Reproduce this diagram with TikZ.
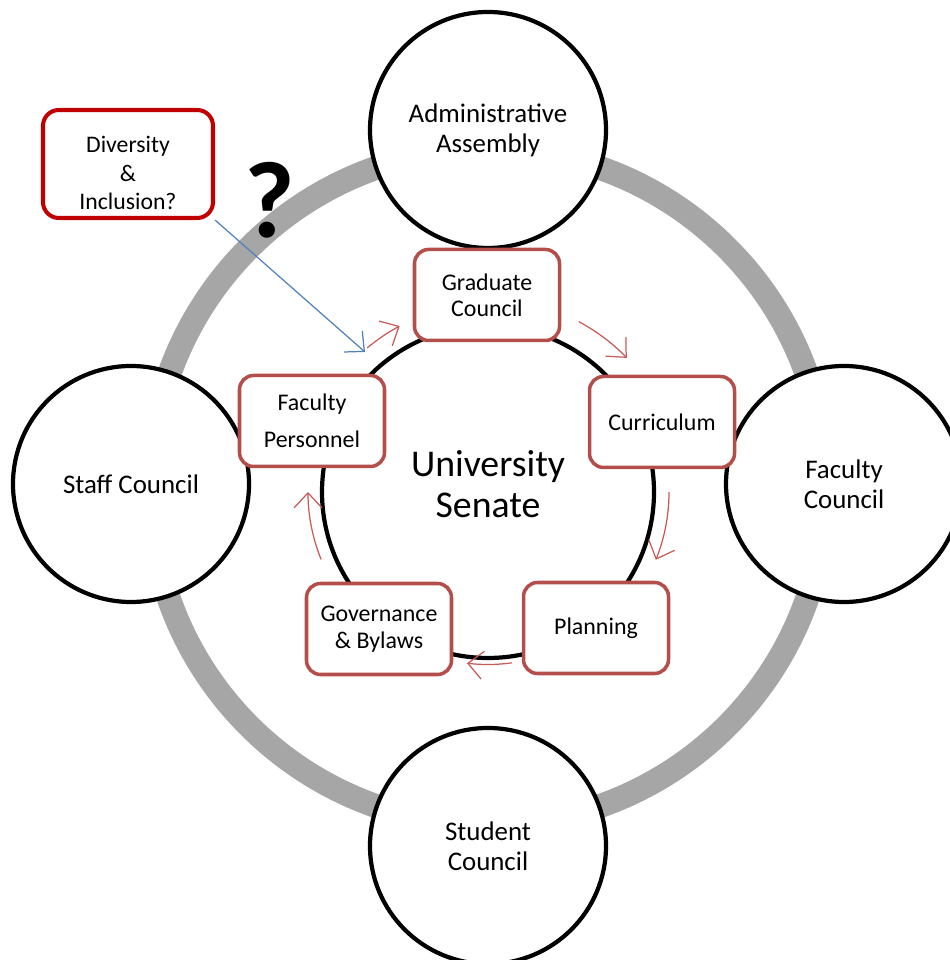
\documentclass[tikz,border=0pt]{standalone}
\usepackage{fontspec}
\setmainfont{Carlito}
\usetikzlibrary{arrows.meta}

\definecolor{ringgray}{RGB}{166,166,166}
\definecolor{boxred}{RGB}{180,78,74}
\definecolor{flowred}{RGB}{200,90,86}
\definecolor{newred}{RGB}{192,0,0}
\definecolor{linkblue}{RGB}{79,129,189}

\tikzset{
  council/.style={circle, draw=black, line width=2.4pt, fill=white,
    minimum size=4.72cm, align=center, font=\fontsize{15.3}{17}\selectfont},
  committee/.style={rectangle, rounded corners=8pt, draw=boxred, line width=2pt,
    fill=white, minimum width=2.9cm, minimum height=1.82cm, align=center,
    font=\fontsize{13.6}{15}\selectfont},
  flow/.style={flowred, line width=0.7pt, -{Straight Barb[length=3mm,width=5.6mm]}},
}

\begin{document}
\begin{tikzpicture}
  \useasboundingbox (0,0) rectangle (18.98,19.2);

  % Outer ring
  \draw[ringgray, line width=0.48cm] (9.76,9.46) circle (6.76);

  % Councils around the ring
  \node[council] (admin) at (9.76,16.6) {Administrative\\Assembly};
  \node[council] (staff) at (2.62,9.52) {Staff Council};
  \node[council] (faculty) at (16.88,9.52) {Faculty\\Council};
  \node[council] (student) at (9.76,2.28) {Student\\Council};

  % Senate in the middle
  \node[circle, draw=black, line width=2.4pt, minimum size=6.64cm] (senate) at (9.76,9.36) {};
  \node[align=center, font=\fontsize{21.5}{23}\selectfont] (senatename) at (9.76,9.52) {University\\Senate};

  % Committees
  \node[committee] (grad) at (9.74,13.3) {Graduate\\Council};
  \node[committee] (curr) at (13.24,10.76) {Curriculum};
  \node[committee] (plan) at (11.92,6.64) {Planning};
  \node[committee] (gov) at (7.58,6.62) {Governance\\\& Bylaws};
  \node[committee, font=\fontsize{13.6}{21}\selectfont] (pers) at (6.24,10.78) {Faculty\\Personnel};

  % Cycle arrows
  \foreach \a/\b/\r in {130/118/3.76, 62/44/3.86, 0/-22/3.62, -82/-97/3.45, 202/180/3.6}
    \draw[flow] (senate.center) ++(\a:\r) arc[start angle=\a, end angle=\b, radius=\r];

  % Proposed committee
  \node[rectangle, rounded corners=9pt, draw=newred, line width=2.3pt, fill=white,
    minimum width=3.4cm, minimum height=2.16cm] (div) at (2.56,15.92) {};
  \node[align=center, font=\fontsize{13.5}{16}\selectfont] (divname) at (2.56,15.74) {Diversity\\\&\\Inclusion?};
  \node[font=\fontsize{62}{62}\bfseries] (qmark) at (5.4,15.2) {?};
  \coordinate (divend) at (7.3,12.16);
  \draw[linkblue, line width=0.7pt, -{Straight Barb[length=3mm,width=5.6mm]}] (div.south east) -- (divend);

\end{tikzpicture}
\end{document}
